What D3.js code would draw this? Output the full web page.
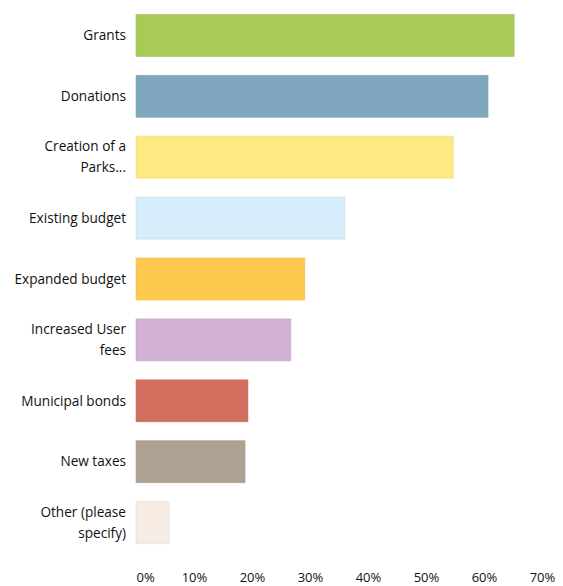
<!DOCTYPE html>
<html>
<head>
<meta charset="utf-8">
<script src="https://cdn.jsdelivr.net/npm/d3@7"></script>
<style>
  html, body { margin: 0; padding: 0; background: #fff; }
  svg { display: block; }
  .cat { font-family: "Open Sans", sans-serif; font-size: 13.6px; fill: #111; }
  .tick text { font-family: "Open Sans", sans-serif; font-size: 13px; fill: #111; }
</style>
</head>
<body>
<svg id="chart" width="563" height="586"></svg>
<script>
// Funding sources, share of respondents (%)
const categories = [
  "Grants",
  "Donations",
  "Creation of a Parks...",
  "Existing budget",
  "Expanded budget",
  "Increased User fees",
  "Municipal bonds",
  "New taxes",
  "Other (please specify)"
];
const values = [65.2, 60.7, 54.7, 36.0, 29.1, 26.7, 19.3, 18.8, 5.7];
const colors = ["#a8cb56", "#7fa7bd", "#fee983", "#d6edfb", "#fec94f", "#d3b0d5", "#d36f5e", "#afa194", "#f6ece4"];
const tickValues = [0, 10, 20, 30, 40, 50, 60, 70];

const svg = d3.select("#chart");
const margin = { top: 5, right: 21, bottom: 33, left: 136 };
const width = 563, height = 586;

const x = d3.scaleLinear()
  .domain([0, 70])
  .range([margin.left, width - margin.right]);

const y = d3.scaleBand()
  .domain(categories)
  .range([margin.top, height - margin.bottom])
  .paddingInner(0.31)
  .paddingOuter(0.155);

// bars
svg.append("g")
  .selectAll("rect")
  .data(categories)
  .join("rect")
  .attr("x", x(0))
  .attr("y", d => y(d))
  .attr("width", (d, i) => x(values[i]) - x(0))
  .attr("height", y.bandwidth())
  .attr("fill", (d, i) => colors[i])
  .attr("stroke", (d, i) => d3.color(colors[i]).darker(0.25))
  .attr("stroke-opacity", 0.5)
  .attr("stroke-width", 1);

// category labels, wrapped to fit the left margin
const maxLabelWidth = 118;
const lineHeight = 21;
const labels = svg.append("g")
  .selectAll("text")
  .data(categories)
  .join("text")
  .attr("class", "cat")
  .attr("text-anchor", "end")
  .attr("x", margin.left - 10);

labels.each(function (d) {
  const text = d3.select(this);
  const words = d.split(" ");
  const lines = [];
  let line = [];
  const probe = text.append("tspan");
  for (const w of words) {
    const trial = line.concat(w).join(" ");
    probe.text(trial);
    if (probe.node().getComputedTextLength() > maxLabelWidth && line.length) {
      lines.push(line.join(" "));
      line = [w];
    } else {
      line.push(w);
    }
  }
  lines.push(line.join(" "));
  probe.remove();
  const cy = y(d) + y.bandwidth() / 2;
  const firstY = cy - (lines.length - 1) * lineHeight / 2;
  lines.forEach((l, k) => {
    text.append("tspan")
      .attr("x", margin.left - 10)
      .attr("y", firstY + k * lineHeight)
      .attr("dy", "0.35em")
      .text(l);
  });
});

// value axis
const axis = d3.axisBottom(x)
  .tickValues(tickValues)
  .tickFormat(d => d + "%")
  .tickSize(0)
  .tickPadding(0);

const gx = svg.append("g")
  .attr("transform", `translate(0, ${height - 8})`)
  .call(axis);
gx.select(".domain").remove();
gx.selectAll(".tick text").attr("dy", "0.32em");
gx.selectAll(".tick").filter(d => d === 0).select("text").attr("text-anchor", "start");
</script>
</body>
</html>
